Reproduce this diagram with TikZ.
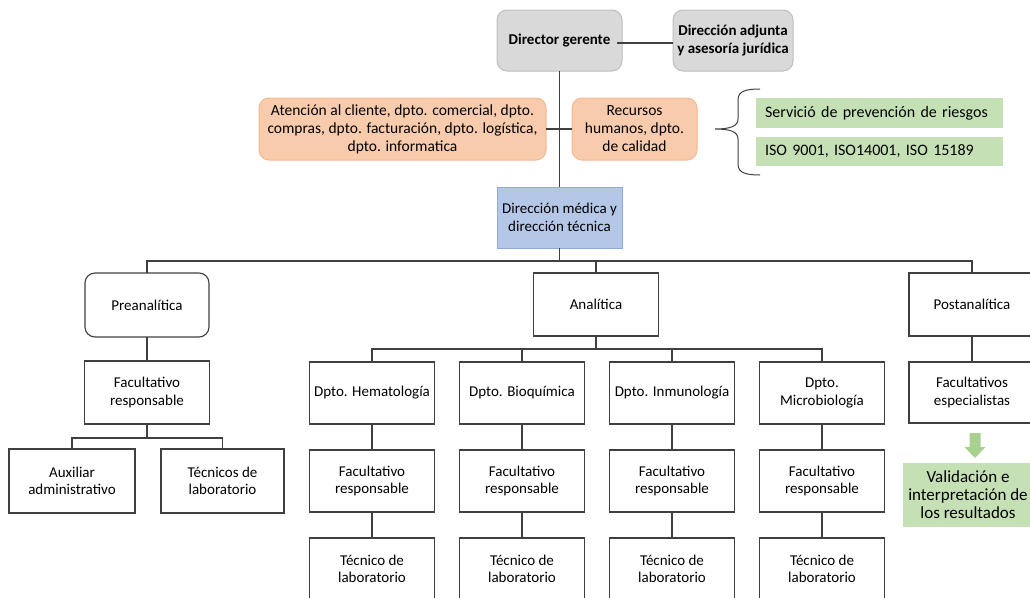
\documentclass[tikz,border=0pt]{standalone}
\usepackage{fontspec}
\setmainfont{Carlito}
\begin{document}
\begin{tikzpicture}[x=1pt,y=-1pt,
  every node/.style={inner sep=0pt,outer sep=0pt,align=center,font=\fontsize{15}{17.5}\selectfont},
  conn/.style={draw=linecol,line width=1.2pt},
  box/.style={draw=linecol,line width=1.1pt,fill=white,minimum width=125pt,minimum height=62pt},
  rbox/.style={box,rounded corners=10pt},
  graybox/.style={draw=grayborder,line width=1pt,fill=grayfill,rounded corners=10pt,minimum height=61pt,font=\fontsize{15}{17.5}\selectfont\bfseries},
  orangebox/.style={draw=orangeborder,line width=1pt,fill=orangefill,rounded corners=10pt,minimum height=62pt,font=\fontsize{15.5}{18}\selectfont},
  bluebox/.style={draw=blueborder,line width=1pt,fill=bluefill,minimum width=125pt,minimum height=61pt},
  greenbar/.style={fill=greenfill,minimum width=247pt,text width=229pt,align=left,inner xsep=9pt,font=\fontsize{16}{18}\selectfont},
  greenbox/.style={fill=greenfill,minimum width=130pt,minimum height=64pt,font=\fontsize{17}{18}\selectfont}
]
\definecolor{linecol}{HTML}{404040}
\definecolor{grayfill}{HTML}{D9D9D9}
\definecolor{grayborder}{HTML}{BFBFBF}
\definecolor{orangefill}{HTML}{F8CBAD}
\definecolor{orangeborder}{HTML}{F4B98F}
\definecolor{bluefill}{HTML}{B4C7E7}
\definecolor{blueborder}{HTML}{8FAADC}
\definecolor{greenfill}{HTML}{C5E0B4}
\definecolor{arrowgreen}{HTML}{A9D18E}
\useasboundingbox (0,0) rectangle (1030,597);
\clip (0,0) rectangle (1030,597);
\fill[white] (0,0) rectangle (1030,597);

% top level
\node[graybox,minimum width=125pt] (dg) at (559.5,40.5) {Director gerente};
\node[graybox,minimum width=120pt] (da) at (733,40.5) {Dirección adjunta\\y asesoría jurídica};
\node[orangebox,minimum width=287pt] (oL) at (402.5,129) {Atención al cliente, dpto. comercial, dpto.\\compras, dpto. facturación, dpto. logística,\\dpto. informatica};
\node[orangebox,minimum width=125pt] (oR) at (634.5,129) {Recursos\\humanos, dpto.\\de calidad};
\node[greenbar,minimum height=30pt] (g1) at (879.5,113) {Servició de prevención de riesgos};
\node[greenbar,minimum height=29pt] (g2) at (879.5,151.5) {ISO 9001, ISO14001, ISO 15189};
\node[bluebox] (dm) at (559.5,217.5) {Dirección médica y\\dirección técnica};

% brace
\draw[linecol,line width=1pt] (760,89) .. controls (746,89) and (738,91) .. (738,100)
  -- (738,119) .. controls (738,126) and (731,129) .. (715,129)
  .. controls (731,129) and (738,132) .. (738,139)
  -- (738,164) .. controls (738,173) and (746,175) .. (760,175);

% second level
\node[rbox,minimum width=124pt,minimum height=64pt] (pre) at (147,305) {Preanalítica};
\node[box,minimum height=63pt] (ana) at (596,304.5) {Analítica};
\node[box,minimum width=126pt,minimum height=63pt] (post) at (972,304.5) {Postanalítica};

% preanalitica branch
\node[box,minimum height=63pt] (fpre) at (147,392.5) {Facultativo\\responsable};
\node[box,minimum width=126pt,minimum height=64pt] (aux) at (72,481) {Auxiliar\\administrativo};
\node[box,minimum width=123pt,minimum height=64pt] (tec) at (222.5,481) {Técnicos de\\laboratorio};

% analitica branch
\node[box] (hema) at (372,393) {Dpto. Hematología};
\node[box] (bio) at (522,393) {Dpto. Bioquímica};
\node[box] (inm) at (672,393) {Dpto. Inmunología};
\node[box] (micro) at (822,393) {Dpto.\\Microbiología};
\node[box] (fhema) at (372,481) {Facultativo\\responsable};
\node[box] (fbio) at (522,481) {Facultativo\\responsable};
\node[box] (finm) at (672,481) {Facultativo\\responsable};
\node[box] (fmicro) at (822,481) {Facultativo\\responsable};
\node[box] (thema) at (372,569) {Técnico de\\laboratorio};
\node[box] (tbio) at (522,569) {Técnico de\\laboratorio};
\node[box] (tinm) at (672,569) {Técnico de\\laboratorio};
\node[box] (tmicro) at (822,569) {Técnico de\\laboratorio};

% postanalitica branch
\node[box,minimum width=126pt,minimum height=61pt] (fesp) at (972,392.5) {Facultativos\\especialistas};
\node[greenbox] (val) at (968,495) {Validación e\\interpretación de\\los resultados};
\fill[arrowgreen] (969.5,433) -- (980.5,433) -- (980.5,447) -- (985.5,447) -- (975,458) -- (964.5,447) -- (969.5,447) -- cycle;

% connectors
\coordinate (b1) at (559.5,261);
\coordinate (b2) at (597,349);
\coordinate (b3) at (147,438);
\draw[conn] ([yshift=-2.5pt]dg.east) ++(-5,0) -- ([yshift=-2.5pt]da.west);
\draw[conn] (dg.south) -- (dm.north);
\draw[conn] (oL.east) -- (oR.west);
\draw[conn] (dm.south) -- (b1);
\draw[conn] (pre.north) -- (pre.north |- b1) -| (post.north);
\draw[conn] (ana.north) -- (ana.north |- b1);
\draw[conn] (ana.south) -- (ana.south |- b2);
\draw[conn] (hema.north) -- (hema.north |- b2) -| (micro.north);
\draw[conn] (bio.north) -- (bio.north |- b2);
\draw[conn] (inm.north) -- (inm.north |- b2);
\draw[conn] (hema.south) -- (fhema.north);
\draw[conn] (bio.south) -- (fbio.north);
\draw[conn] (inm.south) -- (finm.north);
\draw[conn] (micro.south) -- (fmicro.north);
\draw[conn] (fhema.south) -- (thema.north);
\draw[conn] (fbio.south) -- (tbio.north);
\draw[conn] (finm.south) -- (tinm.north);
\draw[conn] (fmicro.south) -- (tmicro.north);
\draw[conn] (pre.south) -- (fpre.north);
\draw[conn] (fpre.south) -- (b3);
\draw[conn] (aux.north) -- (aux.north |- b3) -| (tec.north);
\draw[conn] (post.south) -- (fesp.north);
\end{tikzpicture}
\end{document}
